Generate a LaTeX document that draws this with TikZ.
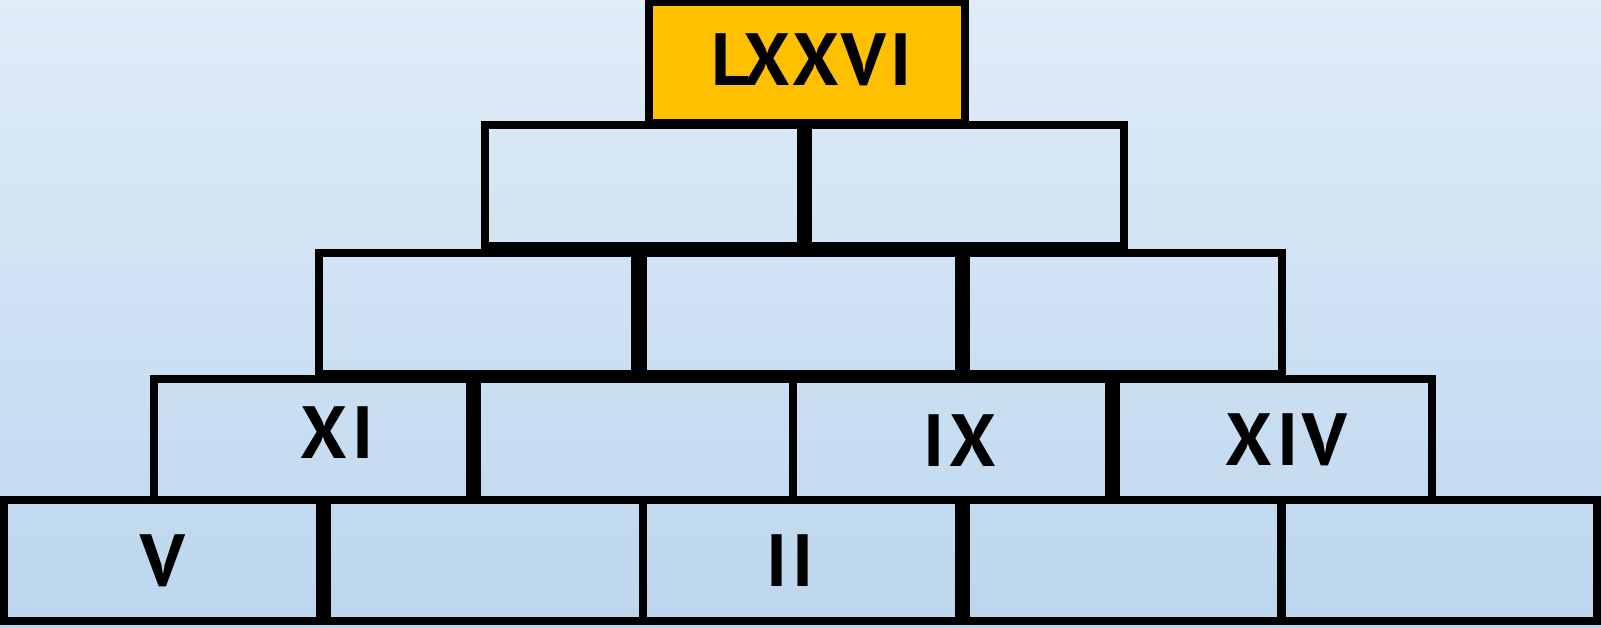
\documentclass[tikz,border=0pt]{standalone}
\usepackage{fontspec}
\setmainfont{PT Sans}
\newfontfamily\numfont[LetterSpace=6]{PT Sans}
\definecolor{bgtop}{RGB}{224,236,248}
\definecolor{bgbot}{RGB}{188,214,238}
\definecolor{gold}{RGB}{255,192,0}
\tikzset{
  brick/.style={draw=black, line width=8pt, minimum width=316pt, minimum height=121pt, inner sep=0pt, outer sep=0pt},
  topbrick/.style={brick, fill=gold},
  numeral/.style={inner sep=0pt, outer sep=0pt, font=\numfont\fontsize{74}{74}\selectfont\bfseries}
}
\begin{document}
\begin{tikzpicture}[x=1pt,y=-1pt]
\useasboundingbox (0,0) rectangle (1601,627);
\shade[top color=bgtop, bottom color=bgbot] (0,0) rectangle (1601,627);
\begin{scope}
\clip (0,0) rectangle (1601,627);
% row 5
\node[brick] (r5a) at (162.2,560.4) {};
\node[brick] (r5b) at (485,560.4) {};
\node[brick] (r5c) at (800.7,560.4) {};
\node[brick] (r5d) at (1123.5,560.4) {};
\node[brick] (r5e) at (1439,560.4) {};
% row 4
\node[brick] (r4a) at (312,439.5) {};
\node[brick] (r4b) at (635,439.5) {};
\node[brick] (r4c) at (951,439.5) {};
\node[brick] (r4d) at (1273.8,439.5) {};
% row 3
\node[brick] (r3a) at (477.4,313) {};
\node[brick] (r3b) at (800.5,313) {};
\node[brick] (r3c) at (1123.5,313) {};
% row 2
\node[brick] (r2a) at (643,185.9) {};
\node[brick] (r2b) at (966,185.9) {};
% row 1
\node[topbrick] (r1) at (806.5,62) {};
\end{scope}
\node[numeral] (t1) at (811.5,60.2) {LXXVI};
\node[numeral] (t2) at (337,432.5) {XI};
\node[numeral] (t3) at (960,441) {IX};
\node[numeral] (t4) at (1286.5,439.7) {XIV};
\node[numeral] (t5) at (163,561) {V};
\node[numeral] (t6) at (790,561) {II};
\end{tikzpicture}
\end{document}
